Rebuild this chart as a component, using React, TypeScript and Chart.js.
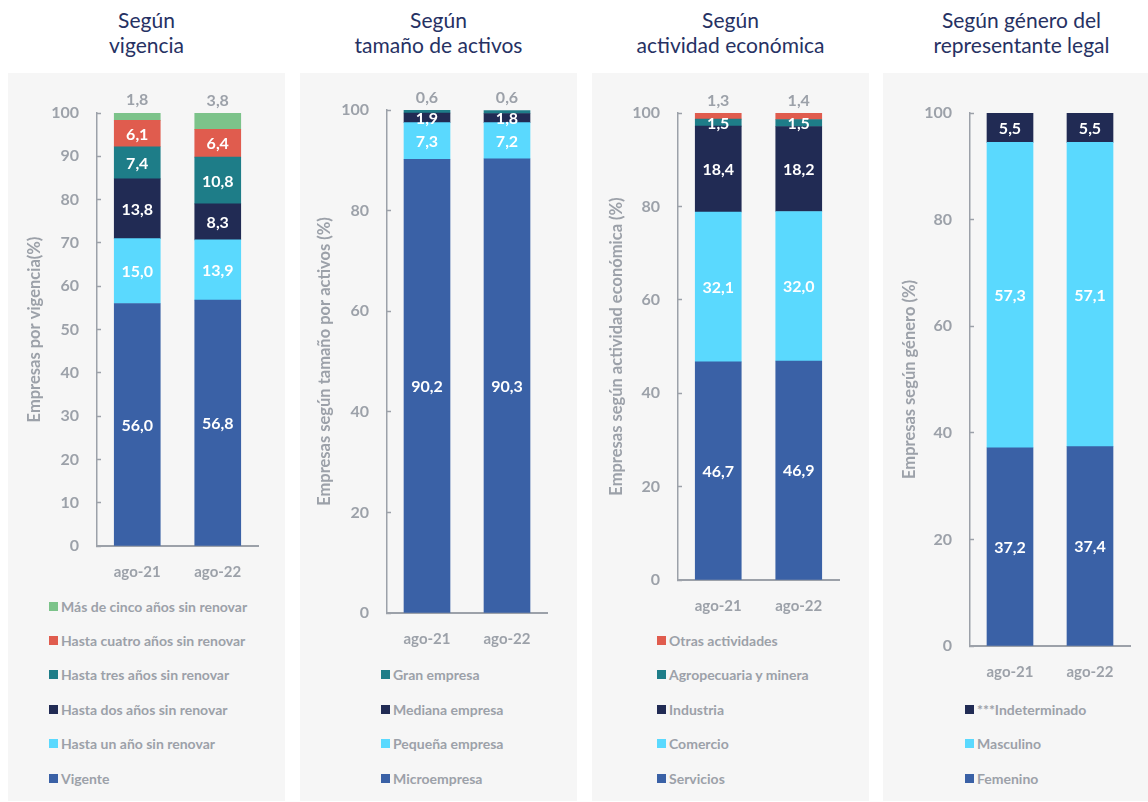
import React, { useEffect, useRef } from "react";
import { Chart, registerables } from "chart.js";
Chart.register(...registerables);

const categories = ["ago-21", "ago-22"];

// Panel 1 – Según vigencia
const vigenciaLabels = [
  "Vigente",
  "Hasta un año sin renovar",
  "Hasta dos años sin renovar",
  "Hasta tres años sin renovar",
  "Hasta cuatro años sin renovar",
  "Más de cinco años sin renovar",
];
const vigente = [56.0, 56.8];
const hastaUnAno = [15.0, 13.9];
const hastaDosAnos = [13.8, 8.3];
const hastaTresAnos = [7.4, 10.8];
const hastaCuatroAnos = [6.1, 6.4];
const masCincoAnos = [1.8, 3.8];

// Panel 2 – Según tamaño de activos
const tamanoLabels = ["Microempresa", "Pequeña empresa", "Mediana empresa", "Gran empresa"];
const microempresa = [90.2, 90.3];
const pequenaEmpresa = [7.3, 7.2];
const medianaEmpresa = [1.9, 1.8];
const granEmpresa = [0.6, 0.6];

// Panel 3 – Según actividad económica
const actividadLabels = ["Servicios", "Comercio", "Industria", "Agropecuaria y minera", "Otras actividades"];
const servicios = [46.7, 46.9];
const comercio = [32.1, 32.0];
const industria = [18.4, 18.2];
const agropecuaria = [1.5, 1.5];
const otrasActividades = [1.3, 1.4];

// Panel 4 – Según género del representante legal
const generoLabels = ["Femenino", "Masculino", "***Indeterminado"];
const femenino = [37.2, 37.4];
const masculino = [57.3, 57.1];
const indeterminado = [5.5, 5.5];

const yTicks10 = [0, 10, 20, 30, 40, 50, 60, 70, 80, 90, 100];
const yTicks20 = [0, 20, 40, 60, 80, 100];

const BLUE = "#3a61a6";
const CYAN = "#5ad9fe";
const NAVY = "#212b54";
const TEAL = "#1e7d88";
const RED = "#e05c4e";
const GREEN = "#7cc38a";
const GREY = "#9ca1a9";
const TITLE = "#263163";
const FONT = "Lato, 'Open Sans', sans-serif";

const BOX_TOP = 73;
const BOX_H = 728;
const BOX_W = 277;

type PanelCfg = {
  title: string[];
  yTitle: string;
  boxLeft: number;
  axisX: number;
  chartRight: number;
  y100: number;
  y0: number;
  legendX: number;
  ticks: number[];
  labels: string[];
  series: number[][];
  colors: string[];
  topOutside: boolean;
  yTitlePad: number;
};

const panels: PanelCfg[] = [
  {
    title: ["Según", "vigencia"],
    yTitle: "Empresas por vigencia(%)",
    boxLeft: 8, axisX: 97, chartRight: 258, y100: 113, y0: 546, legendX: 49,
    ticks: yTicks10,
    labels: vigenciaLabels,
    series: [vigente, hastaUnAno, hastaDosAnos, hastaTresAnos, hastaCuatroAnos, masCincoAnos],
    colors: [BLUE, CYAN, NAVY, TEAL, RED, GREEN],
    topOutside: true,
    yTitlePad: 17,
  },
  {
    title: ["Según", "tamaño de activos"],
    yTitle: "Empresas según tamaño por activos (%)",
    boxLeft: 300, axisX: 387, chartRight: 547, y100: 110, y0: 613, legendX: 381,
    ticks: yTicks20,
    labels: tamanoLabels,
    series: [microempresa, pequenaEmpresa, medianaEmpresa, granEmpresa],
    colors: [BLUE, CYAN, NAVY, TEAL],
    topOutside: true,
    yTitlePad: 15,
  },
  {
    title: ["Según", "actividad económica"],
    yTitle: "Empresas según actividad económica (%)",
    boxLeft: 592, axisX: 678, chartRight: 839, y100: 113, y0: 580, legendX: 657,
    ticks: yTicks20,
    labels: actividadLabels,
    series: [servicios, comercio, industria, agropecuaria, otrasActividades],
    colors: [BLUE, CYAN, NAVY, TEAL, RED],
    topOutside: true,
    yTitlePad: 15,
  },
  {
    title: ["Según género del", "representante legal"],
    yTitle: "Empresas según género (%)",
    boxLeft: 883, axisX: 970, chartRight: 1130, y100: 113, y0: 646, legendX: 965,
    ticks: yTicks20,
    labels: generoLabels,
    series: [femenino, masculino, indeterminado],
    colors: [BLUE, CYAN, NAVY],
    topOutside: false,
    yTitlePad: 17,
  },
];

const fmt = (v: number) => v.toFixed(1).replace(".", ",");

const segLabels = {
  id: "segLabels",
  afterDatasetsDraw(chart: any, _args: any, opts: any) {
    const ctx = chart.ctx;
    ctx.save();
    ctx.font = `bold 16px ${FONT}`;
    ctx.textAlign = "center";
    ctx.textBaseline = "middle";
    const n = chart.data.datasets.length;
    chart.data.datasets.forEach((ds: any, di: number) => {
      const meta = chart.getDatasetMeta(di);
      meta.data.forEach((el: any, i: number) => {
        const { x, y, base } = el.getProps(["x", "y", "base"], true);
        const txt = fmt(ds.data[i]);
        if (di === n - 1 && opts.topOutside) {
          ctx.fillStyle = GREY;
          ctx.fillText(txt, x, y - 12.5);
        } else {
          ctx.fillStyle = "#ffffff";
          ctx.fillText(txt, x, (y + base) / 2 + 1);
        }
      });
    });
    ctx.restore();
  },
};

function PanelChart({ p }: { p: PanelCfg }) {
  const ref = useRef<HTMLCanvasElement>(null);
  const cw = BOX_W;
  const ch = p.y0 - BOX_TOP + 40;
  useEffect(() => {
    if (!ref.current) return;
    const yWidth = p.axisX - p.boxLeft;
    const chart = new Chart(ref.current, {
      type: "bar",
      data: {
        labels: categories,
        datasets: p.series.map((s, i) => ({
          label: p.labels[i],
          data: s,
          backgroundColor: p.colors[i],
          borderWidth: 0,
          barThickness: 46,
        })),
      },
      options: {
        responsive: false,
        animation: false,
        events: [],
        layout: {
          padding: { top: p.y100 - BOX_TOP, right: BOX_W - (p.chartRight - p.boxLeft), left: 0, bottom: 0 },
        },
        plugins: {
          legend: { display: false },
          tooltip: { enabled: false },
          segLabels: { topOutside: p.topOutside },
        } as any,
        scales: {
          x: {
            stacked: true,
            grid: { display: false, drawTicks: false },
            border: { display: true, color: GREY, width: 2 },
            ticks: { color: GREY, font: { family: FONT, size: 15, weight: "bold" }, padding: 17 },
            afterFit: (s: any) => { s.height = 40; },
          },
          y: {
            stacked: true,
            min: 0,
            max: 100,
            afterBuildTicks: (s: any) => { s.ticks = p.ticks.map((v) => ({ value: v })); },
            grid: { display: true, drawOnChartArea: false, drawTicks: true, tickLength: -4, color: GREY, tickColor: GREY, tickWidth: 1.5 },
            border: { display: true, color: GREY, width: 1.5 },
            ticks: { color: GREY, font: { family: FONT, size: 16, weight: "bold" }, padding: 22 },
            title: {
              display: true,
              text: p.yTitle,
              color: GREY,
              font: { family: FONT, size: 16.5, weight: "bold" },
              padding: { top: p.yTitlePad, bottom: 0 },
            },
            afterFit: (s: any) => { s.width = yWidth; },
          },
        },
      },
      plugins: [segLabels],
    });
    return () => chart.destroy();
  }, []);
  return (
    <canvas
      ref={ref}
      width={cw}
      height={ch}
      style={{ position: "absolute", left: p.boxLeft, top: BOX_TOP, width: cw, height: ch }}
    />
  );
}

function Panel({ p }: { p: PanelCfg }) {
  const n = p.labels.length;
  const legendItems = p.labels.map((l, i) => ({ label: l, color: p.colors[i] })).reverse();
  return (
    <>
      <div
        style={{
          position: "absolute",
          left: p.boxLeft,
          top: BOX_TOP,
          width: BOX_W,
          height: BOX_H,
          background: "#f6f6f6",
        }}
      />
      <div
        style={{
          position: "absolute",
          left: p.boxLeft,
          top: 7,
          width: BOX_W,
          textAlign: "center",
          fontFamily: FONT,
          fontSize: 21,
          lineHeight: "25px",
          color: TITLE,
        }}
      >
        {p.title.map((t, i) => (
          <div key={i}>{t}</div>
        ))}
      </div>
      <PanelChart p={p} />
      {legendItems.map((it, i) => {
        const cy = 778 - (n - 1 - i) * 34.4;
        return (
          <div
            key={i}
            style={{
              position: "absolute",
              left: p.legendX,
              top: cy - 9,
              height: 18,
              display: "flex",
              alignItems: "center",
              whiteSpace: "nowrap",
              fontFamily: FONT,
              fontWeight: 700,
              fontSize: 14,
              color: GREY,
            }}
          >
            <span style={{ display: "inline-block", width: 9, height: 9, background: it.color, marginRight: 3 }} />
            <span>{it.label}</span>
          </div>
        );
      })}
    </>
  );
}

export default function App() {
  return (
    <div
      style={{
        position: "absolute",
        left: 0,
        top: 0,
        width: 1148,
        height: 802,
        overflow: "hidden",
        background: "#ffffff",
      }}
    >
      {panels.map((p, i) => (
        <Panel key={i} p={p} />
      ))}
    </div>
  );
}
